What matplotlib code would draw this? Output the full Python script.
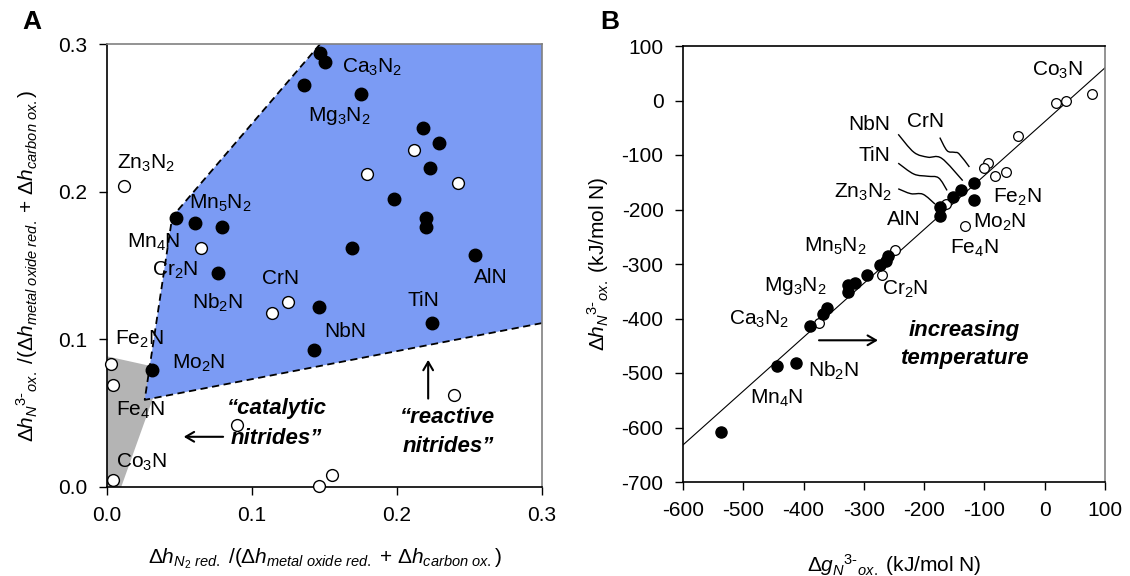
import numpy as np
import matplotlib
matplotlib.use("Agg")
import matplotlib.pyplot as plt
from matplotlib.path import Path
from matplotlib.patches import PathPatch, Polygon

plt.rcParams['font.family'] = ['Liberation Sans', 'DejaVu Sans']
plt.rcParams['mathtext.fontset'] = 'custom'
plt.rcParams['mathtext.rm'] = 'Liberation Sans'
plt.rcParams['mathtext.it'] = 'Liberation Sans:italic'
plt.rcParams['mathtext.bf'] = 'Liberation Sans:bold'
plt.rcParams['axes.unicode_minus'] = False

# ---------------- Panel A data ----------------
a_filled_x = [0.147, 0.150, 0.136, 0.175, 0.218, 0.229, 0.223, 0.198, 0.220, 0.220,
              0.169, 0.254, 0.0475, 0.061, 0.079, 0.0765, 0.146, 0.224, 0.143, 0.031]
a_filled_y = [0.294, 0.288, 0.272, 0.266, 0.243, 0.233, 0.216, 0.195, 0.182, 0.176,
              0.162, 0.157, 0.182, 0.179, 0.176, 0.145, 0.122, 0.111, 0.093, 0.079]
a_open_x = [0.0115, 0.212, 0.179, 0.242, 0.065, 0.125, 0.114, 0.003, 0.004, 0.239,
            0.0896, 0.0044, 0.146, 0.155]
a_open_y = [0.204, 0.228, 0.212, 0.206, 0.162, 0.125, 0.118, 0.083, 0.069, 0.062,
            0.042, 0.005, 0.0007, 0.008]

a_labels = ['Ca$_3$N$_2$', 'Mg$_3$N$_2$', 'Zn$_3$N$_2$', 'Mn$_5$N$_2$', 'Mn$_4$N',
            'Cr$_2$N', 'CrN', 'AlN', 'Nb$_2$N', 'TiN', 'NbN', 'Fe$_2$N', 'Mo$_2$N',
            'Fe$_4$N', 'Co$_3$N']
a_label_x = [0.183, 0.160, 0.027, 0.078, 0.032, 0.047, 0.120, 0.265, 0.0765, 0.218,
             0.164, 0.022, 0.063, 0.0227, 0.0235]
a_label_y = [0.284, 0.251, 0.219, 0.192, 0.166, 0.147, 0.141, 0.142, 0.125, 0.126,
             0.105, 0.0998, 0.0836, 0.052, 0.0164]

# region boundaries (reactive = blue, catalytic = gray)
reactive_x = [0.026, 0.045, 0.147, 0.300, 0.300]
reactive_y = [0.059, 0.183, 0.300, 0.300, 0.111]
catalytic_x = [0.0, 0.039, 0.0098, 0.0]
catalytic_y = [0.0885, 0.080, 0.0, 0.0]

a_ticks = [0.0, 0.1, 0.2, 0.3]

# ---------------- Panel B data ----------------
b_open_x = [18, 35, 79, -44, -94, -100, -83, -64, -164, -132, -249, -270, -375]
b_open_y = [-5, 0, 12, -65, -115, -124, -139, -132, -190, -230, -275, -320, -408]
b_filled_x = [-117.6, -116.5, -138.5, -151.7, -174.3, -174.3, -259.8, -263, -272.5,
              -295, -315, -326.7, -326.7, -361.4, -368.3, -390, -444, -412.3, -537.6]
b_filled_y = [-152, -182, -165, -177.5, -196, -212, -284.6, -295, -302,
              -321, -335, -339, -352, -381, -391.6, -413, -488, -482, -608]
b_fit_x = [-600, 100]
b_fit_y = [-632, 60]

b_labels = ['Co$_3$N', 'NbN', 'CrN', 'TiN', 'Zn$_3$N$_2$', 'Fe$_2$N', 'AlN', 'Mo$_2$N',
            'Fe$_4$N', 'Mn$_5$N$_2$', 'Mg$_3$N$_2$', 'Cr$_2$N', 'Ca$_3$N$_2$', 'Nb$_2$N',
            'Mn$_4$N']
b_label_x = [22, -291, -197, -282, -301, -45, -234, -75, -116, -347, -413, -231, -474,
             -351, -445]
b_label_y = [56, -44, -39, -101, -168, -177, -219, -224, -271, -268, -341, -347, -401,
             -496, -546]

# squiggly leader lines (waypoints)
leader_NbN = ([-243, -217, -194, -171, -136], [-62, -95, -104, -106, -147])
leader_CrN = ([-174, -162, -150, -142, -125], [-68, -92, -95, -98, -122])
leader_TiN = ([-243, -217, -194, -176, -162], [-115, -135, -139, -142, -165])
leader_Zn = ([-243, -222, -202, -182], [-162, -171, -172, -190])

b_xticks = [-600, -500, -400, -300, -200, -100, 0, 100]
b_yticks = [-700, -600, -500, -400, -300, -200, -100, 0, 100]

W, H = 1130, 576
fig = plt.figure(figsize=(W / 100, H / 100), dpi=100)

FS = 15
blue = '#7b9bf4'
gray = '#b4b4b4'

# ================= Panel A =================
axA = fig.add_axes([107 / W, 1 - 487 / H, 435 / W, 443 / H])
axA.add_patch(Polygon(np.column_stack([catalytic_x, catalytic_y]), closed=True,
                      facecolor=gray, edgecolor='none', zorder=1))
axA.add_patch(Polygon(np.column_stack([reactive_x, reactive_y]), closed=True,
                      facecolor=blue, edgecolor='none', zorder=1.5))
# dashed boundaries
bx = [reactive_x[2], reactive_x[1], reactive_x[0], reactive_x[4]]
by = [reactive_y[2], reactive_y[1], reactive_y[0], reactive_y[4]]
axA.plot(bx, by, color='black', ls=(0, (4, 2.5)), lw=1.3, zorder=2)

axA.plot(a_open_x, a_open_y, 'o', ms=8.5, mfc='white', mec='black', mew=1.0,
         zorder=3, clip_on=False)
axA.plot(a_filled_x, a_filled_y, 'o', ms=9, mfc='black', mec='black', zorder=4,
         clip_on=False)

for t, x, y in zip(a_labels, a_label_x, a_label_y):
    axA.text(x, y, t, fontsize=FS, ha='center', va='center', zorder=5)

axA.text(0.117, 0.053, '\u201ccatalytic', fontsize=FS + 1, fontweight='bold',
         style='italic', ha='center', va='center')
axA.text(0.117, 0.033, 'nitrides\u201d', fontsize=FS + 1, fontweight='bold',
         style='italic', ha='center', va='center')
axA.annotate('', xy=(0.051, 0.034), xytext=(0.082, 0.034),
             arrowprops=dict(arrowstyle='->,head_length=0.6,head_width=0.35', lw=1.5,
                             color='black'))
axA.text(0.2345, 0.047, '\u201creactive', fontsize=FS + 1, fontweight='bold',
         style='italic', ha='center', va='center')
axA.text(0.2355, 0.0277, 'nitrides\u201d', fontsize=FS + 1, fontweight='bold',
         style='italic', ha='center', va='center')
axA.annotate('', xy=(0.2215, 0.088), xytext=(0.2215, 0.058),
             arrowprops=dict(arrowstyle='->,head_length=0.6,head_width=0.35', lw=1.5,
                             color='black'))

axA.set_xlim(0, 0.3)
axA.set_ylim(0, 0.3)
axA.set_xticks(a_ticks)
axA.set_yticks(a_ticks)
axA.set_xticklabels([f'{v:.1f}' for v in a_ticks])
axA.set_yticklabels([f'{v:.1f}' for v in a_ticks])
axA.tick_params(direction='out', length=6, width=1, labelsize=FS, pad=8)
for s in ['left', 'bottom']:
    axA.spines[s].set_linewidth(1.2)
for s in ['top', 'right']:
    axA.spines[s].set_color('#808080')
    axA.spines[s].set_linewidth(1.2)
axA.set_xlabel(r'$\Delta h_{N_2\ red.}$ /($\Delta h_{metal\ oxide\ red.}$ + '
               r'$\Delta h_{carbon\ ox.}$)', fontsize=FS)
axA.set_ylabel(r'$\Delta h_{N}{}^{3\text{-}}{}_{ox.}$ /($\Delta h_{metal\ oxide\ red.}$ + '
               r'$\Delta h_{carbon\ ox.}$)', fontsize=FS)
axA.xaxis.set_label_coords(0.5, -0.135)
axA.yaxis.set_label_coords(-0.155, 0.5)

fig.text(22 / W, 1 - 22 / H, 'A', fontsize=19, fontweight='bold', ha='left', va='center')
fig.text(600 / W, 1 - 22 / H, 'B', fontsize=19, fontweight='bold', ha='left', va='center')

# ================= Panel B =================
axB = fig.add_axes([683 / W, 1 - 482 / H, 422 / W, 436 / H])
axB.plot(b_fit_x, b_fit_y, color='black', lw=0.8, zorder=2)
axB.plot(b_open_x, b_open_y, 'o', ms=7, mfc='white', mec='black', mew=0.9, zorder=3)
axB.plot(b_filled_x, b_filled_y, 'o', ms=8, mfc='black', mec='black', zorder=4)


def smooth_path(xs, ys):
    pts = np.column_stack([xs, ys]).astype(float)
    verts = [pts[0]]
    codes = [Path.MOVETO]
    n = len(pts)
    for i in range(n - 1):
        p0 = pts[i - 1] if i > 0 else pts[i]
        p1 = pts[i]
        p2 = pts[i + 1]
        p3 = pts[i + 2] if i + 2 < n else pts[i + 1]
        c1 = p1 + (p2 - p0) / 6.0
        c2 = p2 - (p3 - p1) / 6.0
        verts += [c1, c2, p2]
        codes += [Path.CURVE4] * 3
    return Path(verts, codes)


for xs, ys in [leader_NbN, leader_CrN, leader_TiN, leader_Zn]:
    axB.add_patch(PathPatch(smooth_path(xs, ys), facecolor='none', edgecolor='black',
                            lw=1.0, zorder=2))

for t, x, y in zip(b_labels, b_label_x, b_label_y):
    axB.text(x, y, t, fontsize=FS, ha='center', va='center', zorder=5)

axB.text(-133, -422, 'increasing', fontsize=FS + 1, fontweight='bold', style='italic',
         ha='center', va='center')
axB.text(-133, -473, 'temperature', fontsize=FS + 1, fontweight='bold', style='italic',
         ha='center', va='center')
axB.annotate('', xy=(-272, -440), xytext=(-379, -440),
             arrowprops=dict(arrowstyle='->,head_length=0.6,head_width=0.35', lw=1.5,
                             color='black'))

axB.set_xlim(-600, 100)
axB.set_ylim(-700, 100)
axB.set_xticks(b_xticks)
axB.set_yticks(b_yticks)
axB.tick_params(direction='out', length=6, width=1, labelsize=FS, pad=8)
for s in ['left', 'bottom', 'top']:
    axB.spines[s].set_linewidth(1.2)
axB.spines['right'].set_color('#808080')
axB.spines['right'].set_linewidth(1.2)
axB.set_xlabel(r'$\Delta g_{N}{}^{3\text{-}}{}_{ox.}$ (kJ/mol N)', fontsize=FS)
axB.set_ylabel(r'$\Delta h_{N}{}^{3\text{-}}{}_{ox.}$ (kJ/mol N)', fontsize=FS)
axB.xaxis.set_label_coords(0.5, -0.16)
axB.yaxis.set_label_coords(-0.17, 0.5)

fig.savefig('out.png', dpi=100)
